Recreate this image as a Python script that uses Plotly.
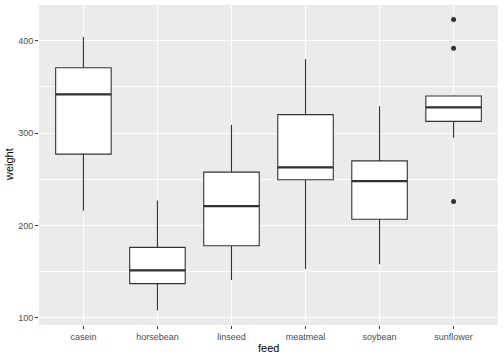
import plotly.graph_objects as go

feeds = ["casein", "horsebean", "linseed", "meatmeal", "soybean", "sunflower"]
q1 = [277.25, 137.0, 178.0, 249.5, 206.75, 312.75]
median = [342.0, 151.5, 221.0, 263.0, 248.0, 328.0]
q3 = [370.75, 176.25, 257.75, 320.0, 270.0, 340.25]
lower = [216, 108, 141, 153, 158, 295]
upper = [404, 227, 309, 380, 329, 341]
outlier_feed = ["sunflower", "sunflower", "sunflower"]
outlier_weight = [226, 392, 423]
y_ticks = [100, 200, 300, 400]

BOX_W = 0.75
pos = list(range(len(feeds)))
LINE = "#333333"

fig = go.Figure()
fig.add_trace(go.Box(
    x=pos, q1=q1, median=median, q3=q3, lowerfence=lower, upperfence=upper,
    width=BOX_W, fillcolor="white", line=dict(color=LINE, width=1.1),
    whiskerwidth=0, boxpoints=False, showlegend=False, hoverinfo="skip"))

# thicker median lines (ggplot style)
mx, my = [], []
for i, m in zip(pos, median):
    mx += [i - BOX_W / 2, i + BOX_W / 2, None]
    my += [m, m, None]
fig.add_trace(go.Scatter(x=mx, y=my, mode="lines",
                         line=dict(color=LINE, width=2.2),
                         showlegend=False, hoverinfo="skip"))

fig.add_trace(go.Scatter(
    x=[feeds.index(f) for f in outlier_feed], y=outlier_weight, mode="markers",
    marker=dict(color=LINE, size=5), showlegend=False, hoverinfo="skip"))

fig.update_layout(
    width=504, height=360,
    margin=dict(l=39, r=6, t=5, b=35),
    paper_bgcolor="white", plot_bgcolor="#EBEBEB",
    font=dict(family="Liberation Sans, Arial, sans-serif", color="black"),
    xaxis=dict(
        range=[-0.6, len(feeds) - 0.4], tickvals=pos, ticktext=feeds,
        showgrid=True, gridcolor="white", gridwidth=1.1, zeroline=False,
        ticks="outside", ticklen=3, tickcolor=LINE, tickwidth=1,
        tickfont=dict(size=9, color="#4D4D4D"), automargin=False,
    ),
    yaxis=dict(
        range=[92.25, 438.75], tickvals=y_ticks,
        showgrid=True, gridcolor="white", gridwidth=1.1, zeroline=False,
        ticks="outside", ticklen=3, tickcolor=LINE, tickwidth=1,
        tickfont=dict(size=9, color="#4D4D4D"), automargin=False,
        minor=dict(dtick=50, tick0=0, showgrid=True, gridcolor="white",
                   gridwidth=0.55, ticks=""),
    ),
    annotations=[
        dict(text="feed", xref="paper", yref="paper", x=0.5, y=0,
             yshift=-15, xanchor="center", yanchor="top", showarrow=False,
             font=dict(size=11, color="black")),
        dict(text="weight", xref="paper", yref="paper", x=0, y=0.5,
             xshift=-22, xanchor="right", yanchor="middle", textangle=-90,
             showarrow=False, font=dict(size=11, color="black")),
    ],
)

fig.write_html("out.html", config={"displayModeBar": False},
               post_script="document.body.style.margin='0';document.body.style.padding='0';")
